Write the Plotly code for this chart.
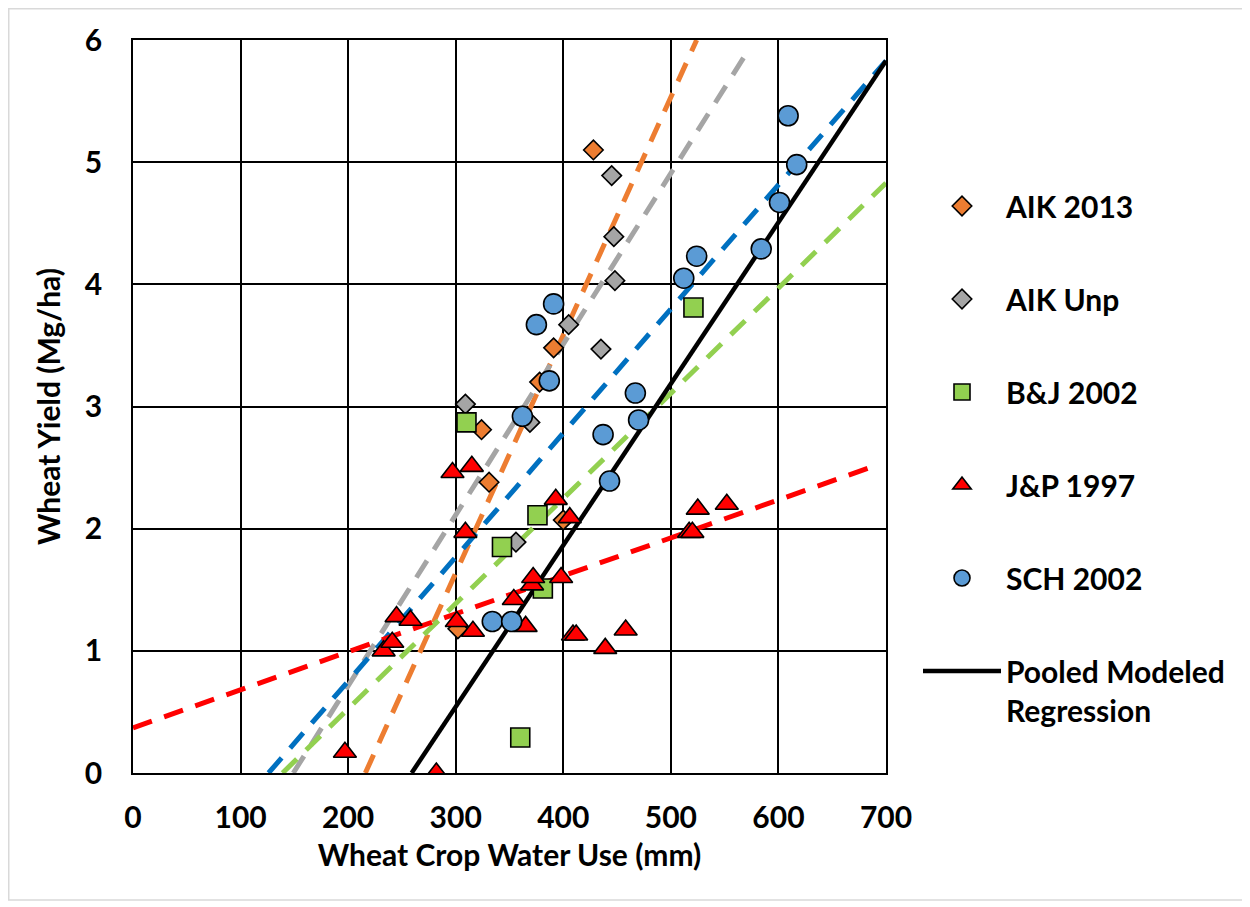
import plotly.graph_objects as go

# ---- data ----
aik2013_x = [428, 391, 378, 324, 331, 400, 302]
aik2013_y = [5.10, 3.48, 3.20, 2.81, 2.38, 2.07, 1.18]

aikunp_x = [309, 356, 369, 405, 435, 445, 447, 448]
aikunp_y = [3.02, 1.89, 2.87, 3.67, 3.47, 4.89, 4.39, 4.03]

bj_x = [310, 521, 376, 343, 381, 360]
bj_y = [2.87, 3.81, 2.11, 1.85, 1.51, 0.29]

jp_x = [197, 282, 233, 241, 245, 258, 297, 301, 309, 315, 316, 354, 365,
        371, 372, 393, 398, 406, 409, 412, 439, 458, 517, 520, 525, 552]
jp_y = [0.17, 0.00, 1.00, 1.07, 1.28, 1.25, 2.46, 1.24, 1.97, 2.51, 1.16, 1.42, 1.20,
        1.54, 1.60, 2.24, 1.60, 2.09, 1.13, 1.13, 1.02, 1.17, 1.97, 1.97, 2.16, 2.20]

sch_x = [609, 617, 601, 584, 524, 512, 391, 375, 387, 362, 467, 470, 437, 443, 334, 352]
sch_y = [5.38, 4.98, 4.67, 4.29, 4.23, 4.05, 3.84, 3.67, 3.21, 2.92, 3.11, 2.89, 2.77, 2.39, 1.24, 1.24]

# trend line end points
aik2013_fit_x = [216, 524]
aik2013_fit_y = [0, 6]
aikunp_fit_x = [149, 573]
aikunp_fit_y = [0, 5.93]
bj_fit_x = [139, 700]
bj_fit_y = [0, 4.83]
jp_fit_x = [0, 685]
jp_fit_y = [0.37, 2.50]
sch_fit_x = [126, 700]
sch_fit_y = [0, 5.83]
pooled_x = [259, 700]
pooled_y = [0, 5.83]

x_ticks = [0, 100, 200, 300, 400, 500, 600, 700]
y_ticks = [0, 1, 2, 3, 4, 5, 6]

# ---- figure ----
fig = go.Figure()

DASH = "20px,13px"
fits = [
    (aik2013_fit_x, aik2013_fit_y, "#ED7D31"),
    (aikunp_fit_x, aikunp_fit_y, "#A5A5A5"),
    (sch_fit_x, sch_fit_y, "#0070C0"),
    (bj_fit_x, bj_fit_y, "#92D050"),
    (jp_fit_x, jp_fit_y, "#FF0000"),
]
for fx, fy, col in fits:
    fig.add_trace(go.Scatter(x=fx, y=fy, mode="lines", showlegend=False,
                             line=dict(color=col, width=5, dash=DASH),
                             hoverinfo="skip"))

fig.add_trace(go.Scatter(x=pooled_x, y=pooled_y, mode="lines",
                         name="Pooled Modeled<br>Regression",
                         legendgroup="g6", legendrank=6,
                         line=dict(color="black", width=4.5)))

MLINE = dict(color="black", width=1.6)
fig.add_trace(go.Scatter(x=aik2013_x, y=aik2013_y, mode="markers", name="AIK 2013",
                         legendgroup="g1", legendrank=1,
                         marker=dict(symbol="diamond", size=15, color="#ED7D31", line=MLINE)))
fig.add_trace(go.Scatter(x=aikunp_x, y=aikunp_y, mode="markers", name="AIK Unp",
                         legendgroup="g2", legendrank=2,
                         marker=dict(symbol="diamond", size=15, color="#A5A5A5", line=MLINE)))
fig.add_trace(go.Scatter(x=bj_x, y=bj_y, mode="markers", name="B&J 2002",
                         legendgroup="g3", legendrank=3,
                         marker=dict(symbol="square", size=19, color="#92D050", line=MLINE)))
fig.add_trace(go.Scatter(x=jp_x, y=jp_y, mode="markers", name="J&P 1997",
                         legendgroup="g4", legendrank=4,
                         marker=dict(symbol="triangle-up", size=20, color="#FF0000", line=MLINE)))
fig.add_trace(go.Scatter(x=sch_x, y=sch_y, mode="markers", name="SCH 2002",
                         legendgroup="g5", legendrank=5,
                         marker=dict(symbol="circle", size=20, color="#5B9BD5", line=MLINE)))

FONT = "Lato"
TICKF = dict(family=FONT, size=30, color="black", weight="bold")
TITLEF = dict(family=FONT, size=30, color="black", weight="bold")
axis_common = dict(
    showgrid=True, gridcolor="black", gridwidth=1.5,
    showline=True, linecolor="black", linewidth=1.5, mirror=True,
    zeroline=False, ticks="",
    tickfont=TICKF,
)

fig.update_xaxes(range=[0, 700], tickvals=x_ticks, ticklabelstandoff=17, **axis_common,
                 title=dict(text="Wheat Crop Water Use (mm)", standoff=12, font=TITLEF))
fig.update_yaxes(range=[0, 6], tickvals=y_ticks, ticklabelstandoff=23, **axis_common,
                 title=dict(text="Wheat Yield (Mg/ha)", standoff=15, font=TITLEF))

# page body adds an 8px offset on screen
L, T = 125, 32
pw, ph = 753, 733
W, H = 1242, 899
R, B = W - L - pw, H - T - ph
plot_bottom = T + ph

fig.update_layout(
    width=W, height=H,
    margin=dict(l=L, r=R, t=T, b=B, autoexpand=False),
    plot_bgcolor="white", paper_bgcolor="white",
    font=dict(family=FONT, size=30, color="black"),
    showlegend=True,
    legend=dict(x=(910 - L) / pw, y=(plot_bottom - 172) / ph, xanchor="left", yanchor="top",
                tracegroupgap=51, valign="top", itemwidth=78,
                font=dict(family=FONT, size=30, color="black", weight="bold"),
                bgcolor="rgba(0,0,0,0)"),
    shapes=[dict(type="rect", xref="paper", yref="paper", layer="below",
                 x0=(0.75 - L) / pw, x1=(1235 - L) / pw,
                 y0=(plot_bottom - 892) / ph, y1=(plot_bottom - 0.75) / ph,
                 line=dict(color="#D9D9D9", width=1.5))],
)

fig.write_html("out.html")
